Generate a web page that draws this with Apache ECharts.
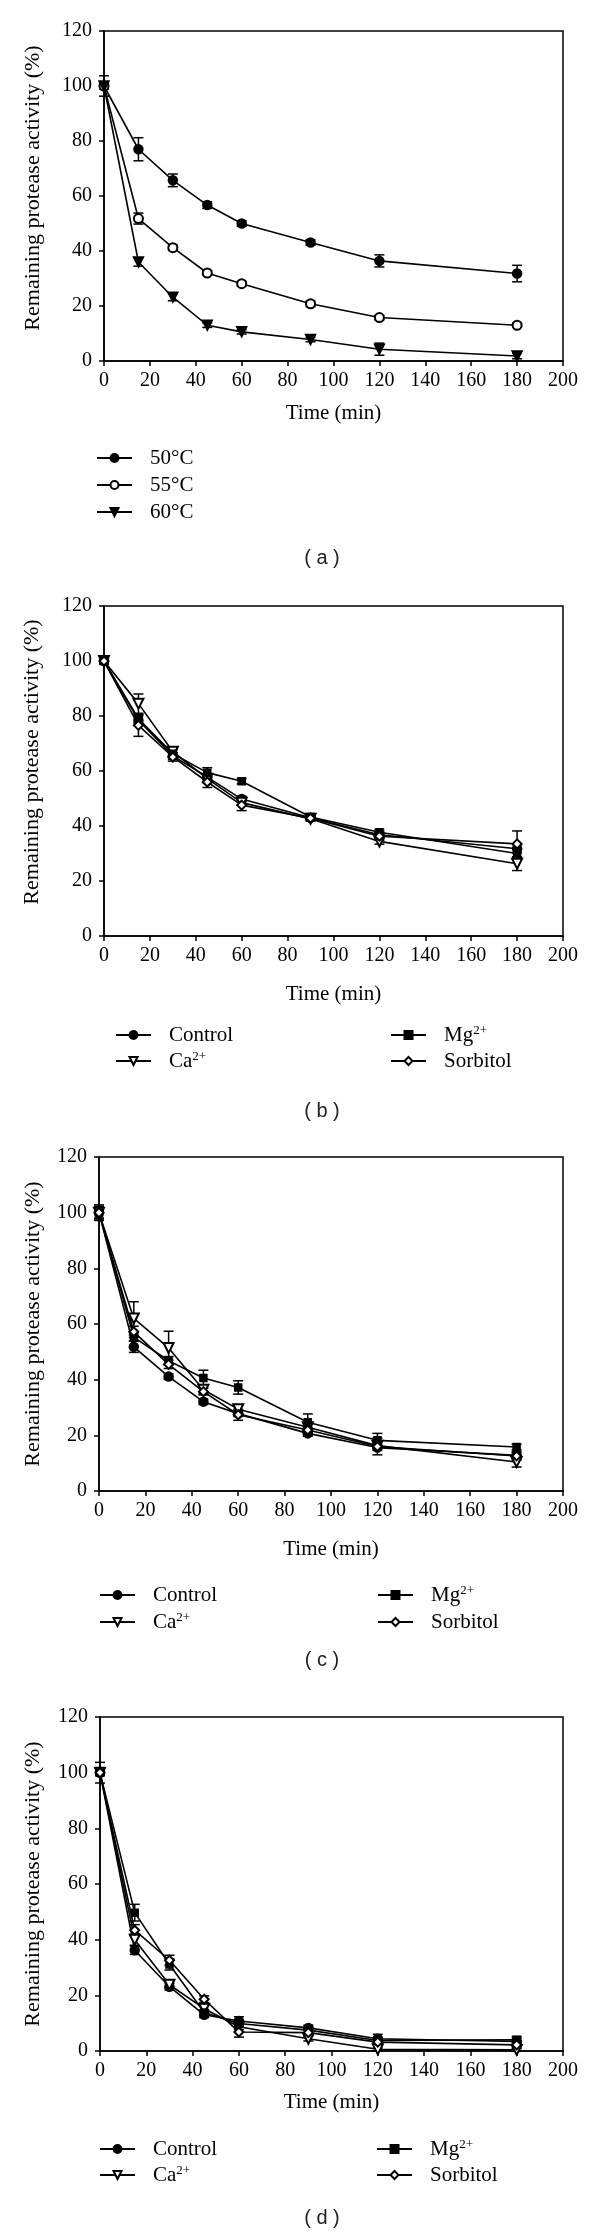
<!DOCTYPE html>
<html><head><meta charset="utf-8">
<script src="https://cdn.jsdelivr.net/npm/echarts@6/dist/echarts.min.js"></script>
<style>html,body{margin:0;padding:0;background:#fff}#c{width:600px;height:2240px}</style>
</head><body><div id="c"></div>
<script>
// ---------- data ----------
const times = [0, 15, 30, 45, 60, 90, 120, 180];
const tempNames = ['50°C', '55°C', '60°C'];
const addNames = ['Control', 'Ca2+', 'Mg2+', 'Sorbitol'];
const panelLabels = ['( a )', '( b )', '( c )', '( d )'];
const xAxisName = 'Time (min)';
const yAxisName = 'Remaining protease activity (%)';

// panel (a)
const a50 = [100, 77, 65.7, 56.7, 50, 43.1, 36.4, 31.8];
const a50Err = [3.7, 4.2, 2.3, 1.2, 1, 1, 2.2, 3];
const a55 = [100, 51.8, 41.2, 32, 28.1, 20.8, 15.8, 13];
const a55Err = [1, 2, 1, 0.8, 0.8, 1, 0.8, 0.5];
const a60 = [100, 36, 23.2, 13, 10.6, 7.8, 4.3, 1.8];
const a60Err = [1, 1.5, 1.3, 0.8, 0.8, 0.8, 2.2, 1];

// panel (b)
const bCtrl = [100, 78.5, 65.5, 57.8, 49.8, 43, 36.8, 31.7];
const bCtrlErr = [1, 1.5, 1.2, 1, 1, 0.8, 1, 1.5];
const bCa = [100, 84.5, 67, 57.2, 48.5, 42.6, 34.4, 26.3];
const bCaErr = [1, 3.5, 1.5, 1.5, 1, 0.8, 1, 2.5];
const bMg = [100, 79, 66.3, 59.4, 56.3, 43.3, 37.7, 30];
const bMgErr = [1, 1.5, 1.5, 1.8, 1, 1, 1, 1.5];
const bSorb = [100, 76.6, 65.1, 56, 47.6, 42.8, 36.3, 33.5];
const bSorbErr = [1, 4, 1.5, 2, 2, 0.8, 1.5, 4.7];

// panel (c)
const cCtrl = [100, 51.8, 41.1, 32.1, 27.8, 20.7, 15.6, 12.8];
const cCtrlErr = [2.8, 2, 1, 1, 1, 1, 1, 1];
const cCa = [100, 62, 51.4, 36.4, 29.4, 22.9, 16.3, 10.4];
const cCaErr = [2, 6, 6, 1.5, 1.5, 1, 1, 1.8];
const cMg = [100, 55.3, 46.8, 40.6, 37.2, 24.7, 18.2, 15.8];
const cMgErr = [2, 1.5, 1.5, 2.8, 2.4, 3, 2.5, 1];
const cSorb = [100, 57.2, 45.5, 35.7, 27.4, 21.9, 16, 12.6];
const cSorbErr = [2.3, 2, 1.5, 1.2, 2, 1, 3, 1.5];

// panel (d)
const dCtrl = [100, 36.2, 23.1, 13, 10.8, 8.3, 4.4, 3.4];
const dCtrlErr = [3.7, 1.5, 1.2, 1, 1.5, 1, 1.6, 1.2];
const dCa = [100, 40, 23.8, 15.2, 8.7, 4.4, 0.6, 0.4];
const dCaErr = [1, 2, 1.2, 1, 1, 0.8, 0.5, 0.5];
const dMg = [100, 49.7, 31.1, 13.8, 9.9, 7.5, 3.8, 4];
const dMgErr = [1, 3, 2, 1, 1, 1, 1, 1.2];
const dSorb = [100, 43.4, 32.6, 18.6, 6.8, 6.6, 3.2, 2.2];
const dSorbErr = [1, 2, 1.8, 1.2, 1.8, 1, 1, 1.2];

// ---------- layout / style ----------
const SERIF = 'Liberation Serif';
const SANS = 'Liberation Sans';
const INK = '#000';
const layout = [
  {left: 104, top: 31, h: 330, yGap: 60, yShift: 16, xGap: 42, cap: 558,
   leg: [[96, 458], [96, 485], [96, 512]]},
  {left: 104, top: 606, h: 330, yGap: 61, yShift: 18, xGap: 48, cap: 1111,
   leg: [[115, 1035], [115, 1061], [390, 1035], [390, 1061]]},
  {left: 99, top: 1157, h: 334, yGap: 55, yShift: 0, xGap: 48, cap: 1660,
   leg: [[99, 1595], [99, 1622], [377, 1595], [377, 1622]]},
  {left: 100, top: 1717, h: 334, yGap: 56, yShift: 0, xGap: 41, cap: 2218,
   leg: [[99, 2149], [99, 2175], [376, 2149], [376, 2175]]}
];

const tempStyles = [
  {symbol: 'circle', size: 9, rotate: 0},
  {symbol: 'emptyCircle', size: 9, rotate: 0},
  {symbol: 'triangle', size: 10, rotate: 180}
];
const addStyles = [
  {symbol: 'circle', size: 9, rotate: 0},
  {symbol: 'emptyTriangle', size: 10, rotate: 180},
  {symbol: 'rect', size: 7, rotate: 0},
  {symbol: 'emptyDiamond', size: 9, rotate: 0}
];

const panelData = [
  {names: tempNames, styles: tempStyles, vals: [a50, a55, a60], errs: [a50Err, a55Err, a60Err]},
  {names: addNames, styles: addStyles, vals: [bCtrl, bCa, bMg, bSorb], errs: [bCtrlErr, bCaErr, bMgErr, bSorbErr]},
  {names: addNames, styles: addStyles, vals: [cCtrl, cCa, cMg, cSorb], errs: [cCtrlErr, cCaErr, cMgErr, cSorbErr]},
  {names: addNames, styles: addStyles, vals: [dCtrl, dCa, dMg, dSorb], errs: [dCtrlErr, dCaErr, dMgErr, dSorbErr]}
];

const grids = [], xAxes = [], yAxes = [], series = [], legends = [], graphics = [];

layout.forEach((L, p) => {
  grids.push({left: L.left, right: 37, top: L.top, height: L.h, show: true,
    borderColor: INK, borderWidth: 1.5, backgroundColor: 'transparent',
    containLabel: false, outerBoundsMode: 'none'});
  xAxes.push({gridIndex: p, type: 'value', min: 0, max: 200, interval: 20,
    axisLine: {show: true, onZero: false, lineStyle: {color: INK, width: 1.5}},
    axisTick: {show: true, inside: false, length: 5, lineStyle: {color: INK, width: 1.5}},
    axisLabel: {color: INK, fontFamily: SERIF, fontSize: 20, fontWeight: 'normal', margin: 10},
    splitLine: {show: false},
    name: xAxisName, nameLocation: 'middle', nameGap: L.xGap,
    nameTextStyle: {color: INK, fontFamily: SERIF, fontSize: 21, fontWeight: 'normal'}});
  yAxes.push({gridIndex: p, type: 'value', min: 0, max: 120, interval: 20,
    axisLine: {show: true, lineStyle: {color: INK, width: 1.5}},
    axisTick: {show: true, inside: false, length: 5, lineStyle: {color: INK, width: 1.5}},
    axisLabel: {color: INK, fontFamily: SERIF, fontSize: 20, fontWeight: 'normal', margin: 12},
    splitLine: {show: false},
    name: yAxisName, nameLocation: 'middle', nameGap: L.yGap,
    nameTextStyle: {color: INK, fontFamily: SERIF, fontSize: 22, fontWeight: 'normal',
      padding: [0, 0, 0, L.yShift]}});

  const P = panelData[p];
  P.names.forEach((nm, k) => {
    const st = P.styles[k];
    const vals = P.vals[k], errs = P.errs[k];
    // error bars
    series.push({type: 'custom', xAxisIndex: p, yAxisIndex: p, z: 1, silent: true,
      clip: false, animation: false,
      data: times.map((t, i) => [t, vals[i], errs[i]]),
      encode: {x: 0, y: 1},
      renderItem: (params, api) => {
        const x = api.value(0), y = api.value(1), e = api.value(2);
        const t = api.coord([x, y + e]), b = api.coord([x, y - e]);
        const w = 5, ls = {stroke: INK, lineWidth: 1.5};
        return {type: 'group', children: [
          {type: 'line', shape: {x1: t[0], y1: t[1], x2: b[0], y2: b[1]}, style: ls},
          {type: 'line', shape: {x1: t[0] - w, y1: t[1], x2: t[0] + w, y2: t[1]}, style: ls},
          {type: 'line', shape: {x1: b[0] - w, y1: b[1], x2: b[0] + w, y2: b[1]}, style: ls}
        ]};
      }});
    series.push({type: 'line', name: nm, xAxisIndex: p, yAxisIndex: p, z: 3,
      data: times.map((t, i) => [t, vals[i]]),
      symbol: st.symbol, symbolSize: st.size, symbolRotate: st.rotate,
      showAllSymbol: true, animation: false,
      lineStyle: {color: INK, width: 1.6},
      itemStyle: {color: INK, borderColor: INK, borderWidth: 1.5}});
    const pos = L.leg[k];
    legends.push({data: [nm], left: pos[0], top: pos[1] - 11, padding: 0,
      itemWidth: 35, itemHeight: 10, selectedMode: false,
      formatter: name => name.replace(/(\d\+)$/, '{sup|$1}'),
      textStyle: {color: INK, fontFamily: SERIF, fontSize: 21, fontWeight: 'normal', lineHeight: 22,
        padding: [0, 0, 0, 13],
        rich: {sup: {fontFamily: SERIF, fontSize: 13, lineHeight: 13, verticalAlign: 'top', color: INK}}}});
  });
  graphics.push({type: 'text', x: 322, y: L.cap, silent: true,
    style: {text: panelLabels[p], fill: '#222', font: '20px ' + SANS,
      textAlign: 'center', textVerticalAlign: 'middle'}});
});

const chart = echarts.init(document.getElementById('c'), null, {renderer: 'canvas', width: 600, height: 2240});
chart.setOption({
  animation: false,
  backgroundColor: '#fff',
  grid: grids, xAxis: xAxes, yAxis: yAxes,
  legend: legends, series: series, graphic: graphics
});
</script></body></html>
